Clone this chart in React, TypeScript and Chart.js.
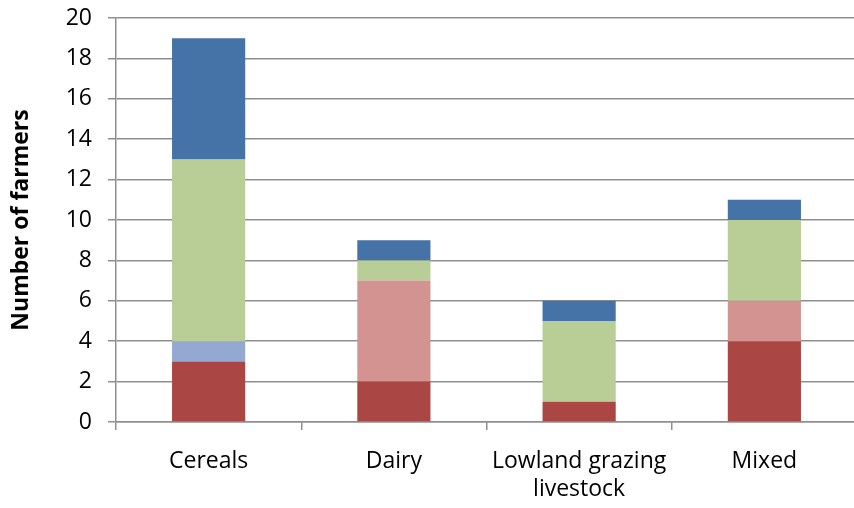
import React, { useEffect, useRef } from "react";
import { Chart, registerables } from "chart.js";

Chart.register(...registerables);

const categories: (string | string[])[] = ["Cereals", "Dairy", ["Lowland grazing", "livestock"], "Mixed"];
const seriesDarkRed = [3, 2, 1, 4];
const seriesLightBlue = [1, 0, 0, 0];
const seriesPink = [0, 5, 0, 2];
const seriesGreen = [9, 1, 4, 4];
const seriesBlue = [6, 1, 1, 1];
const yTicks = [0, 2, 4, 6, 8, 10, 12, 14, 16, 18, 20];

const FONT = "'Open Sans', Lato, sans-serif";
const GRID = "#8f8f8f";

export default function App() {
  const ref = useRef<HTMLCanvasElement | null>(null);
  useEffect(() => {
    if (!ref.current) return;
    const mk = (label: string, data: number[], color: string) => ({
      label,
      data,
      backgroundColor: color,
      borderWidth: 0,
      barPercentage: 0.395,
      categoryPercentage: 1,
    });
    const chart = new Chart(ref.current, {
      type: "bar",
      data: {
        labels: categories,
        datasets: [
          mk("S1", seriesDarkRed, "#AA4643"),
          mk("S2", seriesLightBlue, "#93A9D2"),
          mk("S3", seriesPink, "#D39391"),
          mk("S4", seriesGreen, "#B9CD96"),
          mk("S5", seriesBlue, "#4572A7"),
        ],
      },
      options: {
        animation: false,
        responsive: false,
        maintainAspectRatio: false,
        layout: { padding: { top: 18, right: 1, left: 0, bottom: 0 } },
        plugins: { legend: { display: false }, tooltip: { enabled: false } },
        scales: {
          x: {
            stacked: true,
            grid: {
              display: true,
              offset: true,
              drawOnChartArea: false,
              drawTicks: true,
              tickLength: 8,
              color: GRID,
              lineWidth: 1.5,
            },
            border: { display: true, color: GRID, width: 1.5 },
            ticks: {
              color: "#000",
              font: { family: FONT, size: 23, lineHeight: 1.2 },
              padding: 18,
              maxRotation: 0,
              autoSkip: false,
            },
            afterFit: (s: any) => {
              s.height = 86;
              s.paddingLeft = 0;
              s.paddingRight = 0;
            },
          },
          y: {
            stacked: true,
            min: 0,
            max: 20,
            afterBuildTicks: (s: any) => {
              s.ticks = yTicks.map((v) => ({ value: v }));
            },
            grid: { color: GRID, lineWidth: 1.5, tickLength: 8 },
            border: { display: true, color: GRID, width: 1.5 },
            ticks: {
              color: "#000",
              font: { family: FONT, size: 23 },
              padding: 16,
            },
            title: {
              display: true,
              text: "Number of farmers",
              color: "#000",
              font: { family: FONT, size: 23, weight: "bold" },
              padding: { top: 8, bottom: 0 },
            },
            afterFit: (s: any) => {
              s.width = 116;
              s.paddingTop = 0;
              s.paddingBottom = 0;
            },
          },
        },
      },
    } as any);
    return () => chart.destroy();
  }, []);
  return (
    <div style={{ position: "absolute", left: 0, top: 0, width: 858, height: 508, background: "#fff" }}>
      <canvas ref={ref} width={858} height={508} style={{ width: 858, height: 508, display: "block" }} />
    </div>
  );
}
